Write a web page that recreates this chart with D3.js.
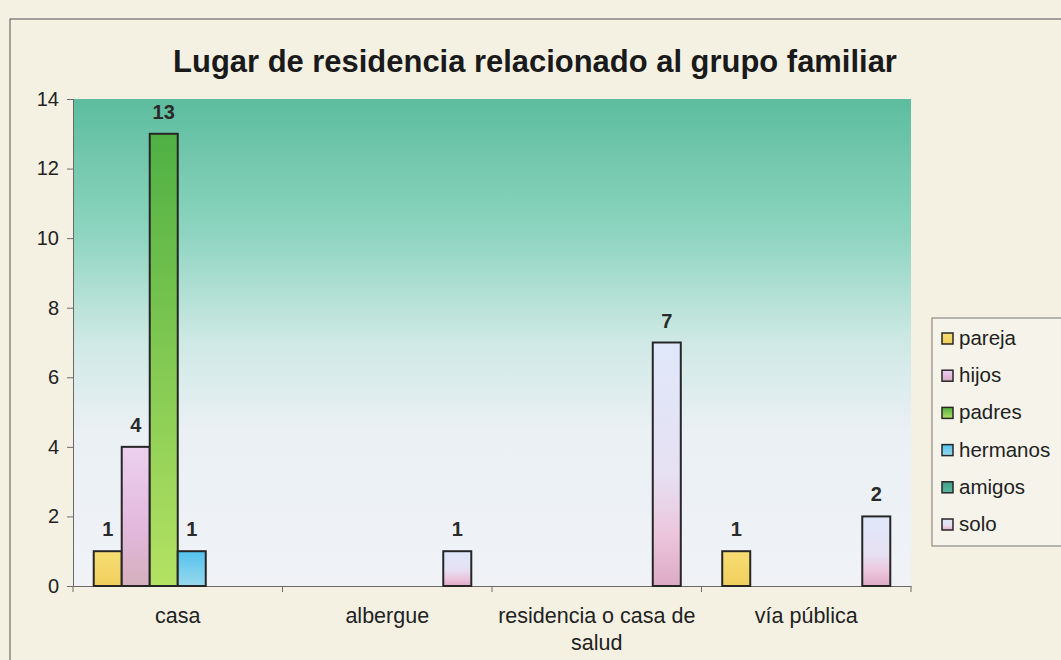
<!DOCTYPE html>
<html>
<head>
<meta charset="utf-8">
<script src="https://cdn.jsdelivr.net/npm/d3@7"></script>
<style>
  html, body { margin: 0; padding: 0; background: #f4f1e3; }
  svg { display: block; }
  text { font-family: "Liberation Sans", Arial, sans-serif; }
</style>
</head>
<body>
<svg id="chart" width="1061" height="660"></svg>
<script>
const title = "Lugar de residencia relacionado al grupo familiar";
const categories = ["casa", "albergue", "residencia o casa de salud", "vía pública"];
const categoryLines = [["casa"], ["albergue"], ["residencia o casa de", "salud"], ["vía pública"]];
const seriesNames = ["pareja", "hijos", "padres", "hermanos", "amigos", "solo"];
const pareja   = [1, 0, 0, 1];
const hijos    = [4, 0, 0, 0];
const padres   = [13, 0, 0, 0];
const hermanos = [1, 0, 0, 0];
const amigos   = [0, 0, 0, 0];
const solo     = [0, 1, 7, 2];
const yTicks = [0, 2, 4, 6, 8, 10, 12, 14];

const seriesValues = [pareja, hijos, padres, hermanos, amigos, solo];
const seriesStops = [
  [["0%", "#f8dd74"], ["100%", "#efcf5c"]],
  [["0%", "#ecd0ee"], ["60%", "#e2b8dc"], ["100%", "#d4b0bc"]],
  [["0%", "#4fb043"], ["100%", "#b4e262"]],
  [["0%", "#52c2ee"], ["100%", "#9ad8ee"]],
  [["0%", "#3f9f8a"], ["100%", "#5bb8a0"]],
  [["0%", "#dfe8fa"], ["55%", "#e6e0f2"], ["80%", "#ecc4dc"], ["100%", "#ddaac6"]]
];

const svg = d3.select("#chart");
const defs = svg.append("defs");

const bg = defs.append("linearGradient").attr("id", "plotbg")
  .attr("x1", 0).attr("y1", 0).attr("x2", 0).attr("y2", 1);
[["0%", "#5dbd9e"], ["28%", "#8ed5c0"], ["50%", "#cfe9e5"], ["68%", "#eaf0f4"], ["100%", "#f0f2f6"]]
  .forEach(s => bg.append("stop").attr("offset", s[0]).attr("stop-color", s[1]));

seriesStops.forEach((stops, i) => {
  const g = defs.append("linearGradient").attr("id", "sg" + i)
    .attr("x1", 0).attr("y1", 0).attr("x2", 0).attr("y2", 1);
  stops.forEach(s => g.append("stop").attr("offset", s[0]).attr("stop-color", s[1]));
});

// outer frame
svg.append("rect").attr("x", 10).attr("y", 19).attr("width", 1100).attr("height", 700)
  .attr("fill", "none").attr("stroke", "#6a6a6a").attr("stroke-width", 1.2);

const plot = { left: 73, right: 911, top: 99, bottom: 586 };

const x0 = d3.scaleBand().domain(categories).range([plot.left, plot.right]).padding(0);
const x1 = d3.scaleBand().domain(seriesNames).range([0, x0.bandwidth()]).paddingInner(0).paddingOuter(0.74);
const y = d3.scaleLinear().domain([0, 14]).range([plot.bottom, plot.top]);

svg.append("rect").attr("x", plot.left).attr("y", plot.top)
  .attr("width", plot.right - plot.left).attr("height", plot.bottom - plot.top)
  .attr("fill", "url(#plotbg)");

// title
const t = svg.append("text").attr("x", 535).attr("y", 72).attr("text-anchor", "middle")
  .attr("font-weight", "bold").attr("font-size", 26).attr("fill", "#1a1a1a").text(title);
const w = t.node().getComputedTextLength();
t.attr("font-size", 26 * 724 / w);

// y axis
const yAxis = svg.append("g").attr("transform", `translate(${plot.left},0)`)
  .call(d3.axisLeft(y).tickValues(yTicks).tickSize(6).tickPadding(8));
yAxis.select(".domain").attr("stroke", "#6a6a6a");
yAxis.selectAll(".tick line").attr("stroke", "#6a6a6a");
yAxis.selectAll(".tick text").attr("font-size", 20).attr("fill", "#222")
  .attr("font-family", "'Liberation Sans', Arial, sans-serif");

// x axis
const xAxis = svg.append("g").attr("transform", `translate(0,${plot.bottom})`)
  .call(d3.axisBottom(x0).tickSize(0).tickFormat(""));
xAxis.select(".domain").attr("stroke", "#6a6a6a");
const bounds = categories.map(c => x0(c)).concat([plot.right]);
xAxis.selectAll(".bound").data(bounds).join("line").attr("class", "bound")
  .attr("x1", d => d).attr("x2", d => d).attr("y1", 0).attr("y2", 6)
  .attr("stroke", "#6a6a6a");

// category labels
categories.forEach((c, i) => {
  const cx = x0(c) + x0.bandwidth() / 2;
  const tx = svg.append("text").attr("x", cx)
    .attr("y", 623).attr("text-anchor", "middle").attr("font-size", 21.5).attr("fill", "#222");
  categoryLines[i].forEach((line, j) => {
    tx.append("tspan").attr("x", cx).attr("dy", j === 0 ? 0 : 27).text(line);
  });
});

// bars
const barData = [];
categories.forEach((c, ci) => {
  seriesNames.forEach((s, si) => {
    const v = seriesValues[si][ci];
    if (v > 0) barData.push({ c, s, si, v });
  });
});

const bars = svg.append("g");
bars.selectAll("rect").data(barData).join("rect")
  .attr("x", d => x0(d.c) + x1(d.s))
  .attr("y", d => y(d.v))
  .attr("width", x1.bandwidth())
  .attr("height", d => y(0) - y(d.v))
  .attr("fill", d => `url(#sg${d.si})`)
  .attr("stroke", "#262626").attr("stroke-width", 2);

bars.selectAll("text").data(barData).join("text")
  .attr("x", d => x0(d.c) + x1(d.s) + x1.bandwidth() / 2)
  .attr("y", d => y(d.v) - 15)
  .attr("text-anchor", "middle").attr("font-size", 20).attr("font-weight", "bold")
  .attr("fill", "#2a2a2a").text(d => d.v);

// legend
const lg = svg.append("g");
lg.append("rect").attr("x", 932).attr("y", 318).attr("width", 140).attr("height", 228)
  .attr("fill", "#f6f4ea").attr("stroke", "#777").attr("stroke-width", 1);
seriesNames.forEach((s, i) => {
  const yy = 338 + i * 37.2;
  lg.append("rect").attr("x", 942).attr("y", yy - 5).attr("width", 11).attr("height", 11)
    .attr("fill", `url(#sg${i})`).attr("stroke", "#262626").attr("stroke-width", 1.5);
  lg.append("text").attr("x", 959).attr("y", yy + 7).attr("font-size", 20.5).attr("fill", "#222").text(s);
});
</script>
</body>
</html>
